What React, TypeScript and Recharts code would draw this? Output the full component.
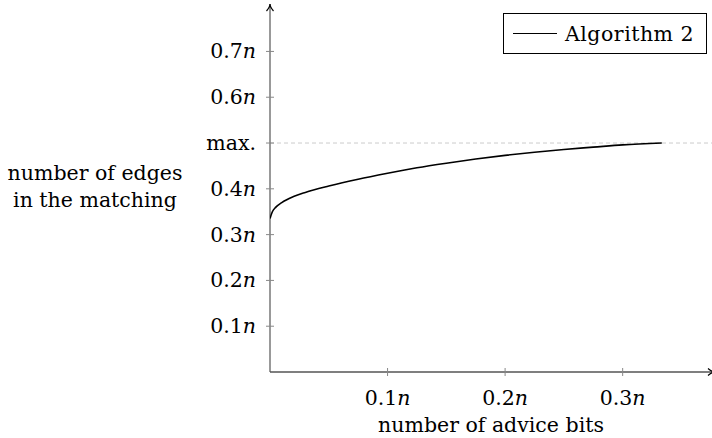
import { Legend, Line, LineChart, ReferenceLine, XAxis, YAxis } from "recharts"

const advice = [0, 0.002, 0.005, 0.01, 0.02, 0.03, 0.05, 0.075, 0.1, 0.125, 0.15, 0.175, 0.2, 0.225, 0.25, 0.275, 0.3, 0.3333]
const edges = [0.335, 0.35, 0.36, 0.37, 0.383, 0.392, 0.406, 0.421, 0.434, 0.446, 0.456, 0.465, 0.473, 0.48, 0.486, 0.491, 0.496, 0.5]
const xTicks = [0.1, 0.2, 0.3]
const yTicks = [0.1, 0.2, 0.3, 0.4, 0.5, 0.6, 0.7]
const maxLevel = 0.5
const seriesName = "Algorithm 2"

const data = advice.map((x, i) => ({ x, y: edges[i] }))

const FONT = "'DejaVu Serif', serif"
const FS = 20.5

function label(v: number) {
    if (v === maxLevel) return null
    return v.toFixed(1)
}

function YTick(props: any) {
    const { x, y, payload } = props
    const txt = label(payload.value)
    return (
        <g>
            <line x1={x - 4} x2={x + 4} y1={y} y2={y} stroke="#888" strokeWidth={1} />
            <text x={x - 14} y={y + 7} textAnchor="end" fontFamily={FONT} fontSize={FS} fill="#000">
                {txt === null ? "max." : <>{txt}<tspan fontStyle="italic">n</tspan></>}
            </text>
        </g>
    )
}

function XTick(props: any) {
    const { x, y, payload } = props
    return (
        <g>
            <line x1={x} x2={x} y1={y - 4} y2={y + 4} stroke="#888" strokeWidth={1} />
            <text x={x} y={y + 33} textAnchor="middle" fontFamily={FONT} fontSize={FS} fill="#000">
                {payload.value.toFixed(1)}<tspan fontStyle="italic">n</tspan>
            </text>
        </g>
    )
}

function Arrow(props: any) {
    const { x1, y1, x2, y2, color } = props
    const dx = x2 - x1
    const dy = y2 - y1
    const len = Math.sqrt(dx * dx + dy * dy) || 1
    const ux = dx / len
    const uy = dy / len
    const px = -uy
    const py = ux
    const tipX = x2 + ux * 3
    const tipY = y2 + uy * 3
    const head = `M${tipX - ux * 7 + px * 3.5},${tipY - uy * 7 + py * 3.5} Q${tipX - ux * 3},${tipY - uy * 3} ${tipX},${tipY} Q${tipX - ux * 3},${tipY - uy * 3} ${tipX - ux * 7 - px * 3.5},${tipY - uy * 7 - py * 3.5}`
    return (
        <g>
            <line x1={x1} y1={y1} x2={tipX} y2={tipY} stroke={color} strokeWidth={1.2} />
            <path d={head} fill="none" stroke="#000" strokeWidth={1.2} />
        </g>
    )
}

function LegendBox() {
    return (
        <div style={{ border: "1px solid #000", width: 204, height: 41, boxSizing: "border-box", display: "flex", alignItems: "center", fontFamily: FONT, fontSize: FS, color: "#000", background: "#fff" }}>
            <div style={{ width: 44, height: 0, borderTop: "1.6px solid #000", marginLeft: 9, marginRight: 8 }} />
            <span style={{ whiteSpace: "nowrap", letterSpacing: 0.5 }}>{seriesName}</span>
        </div>
    )
}

function App() {
    return (
        <div style={{ position: "absolute", left: 0, top: 0, width: 712, height: 438, background: "#fff" }}>
            <LineChart width={712} height={438} data={data} margin={{ top: 7, right: 0, bottom: 0, left: 0 }}>
                <XAxis type="number" dataKey="x" domain={[0, 0.376]} ticks={xTicks} axisLine={false} tickLine={false}
                    tickSize={0} tickMargin={0} height={66} tick={<XTick />} allowDataOverflow />
                <YAxis type="number" domain={[0, 0.797]} ticks={yTicks} axisLine={false} tickLine={false}
                    tickSize={0} tickMargin={0} width={270} tick={<YTick />} allowDataOverflow />
                <ReferenceLine y={maxLevel} stroke="#ccc" strokeDasharray="4 3" strokeWidth={1} />
                <ReferenceLine segment={[{ x: 0, y: 0 }, { x: 0.376, y: 0 }]} shape={(p: any) => <Arrow {...p} color="#000" />} />
                <ReferenceLine segment={[{ x: 0, y: 0 }, { x: 0, y: 0.797 }]} shape={(p: any) => <Arrow {...p} color="#555" />} />
                <Line type="monotone" dataKey="y" name={seriesName} stroke="#000" strokeWidth={1.6} dot={false} isAnimationActive={false} />
                <Legend layout="vertical" align="center" verticalAlign="middle" content={<LegendBox />}
                    wrapperStyle={{ position: "absolute", top: 13, left: 503, width: 204 }} />
            </LineChart>
            <div style={{ position: "absolute", left: 2, top: 160, width: 186, textAlign: "center", fontFamily: FONT, fontSize: FS, lineHeight: "27px", color: "#000", whiteSpace: "nowrap" }}>
                number of edges<br />in the matching
            </div>
            <div style={{ position: "absolute", left: 270, top: 413, width: 442, textAlign: "center", fontFamily: FONT, fontSize: FS, color: "#000", whiteSpace: "nowrap" }}>
                number of advice bits
            </div>
        </div>
    )
}

export default App
